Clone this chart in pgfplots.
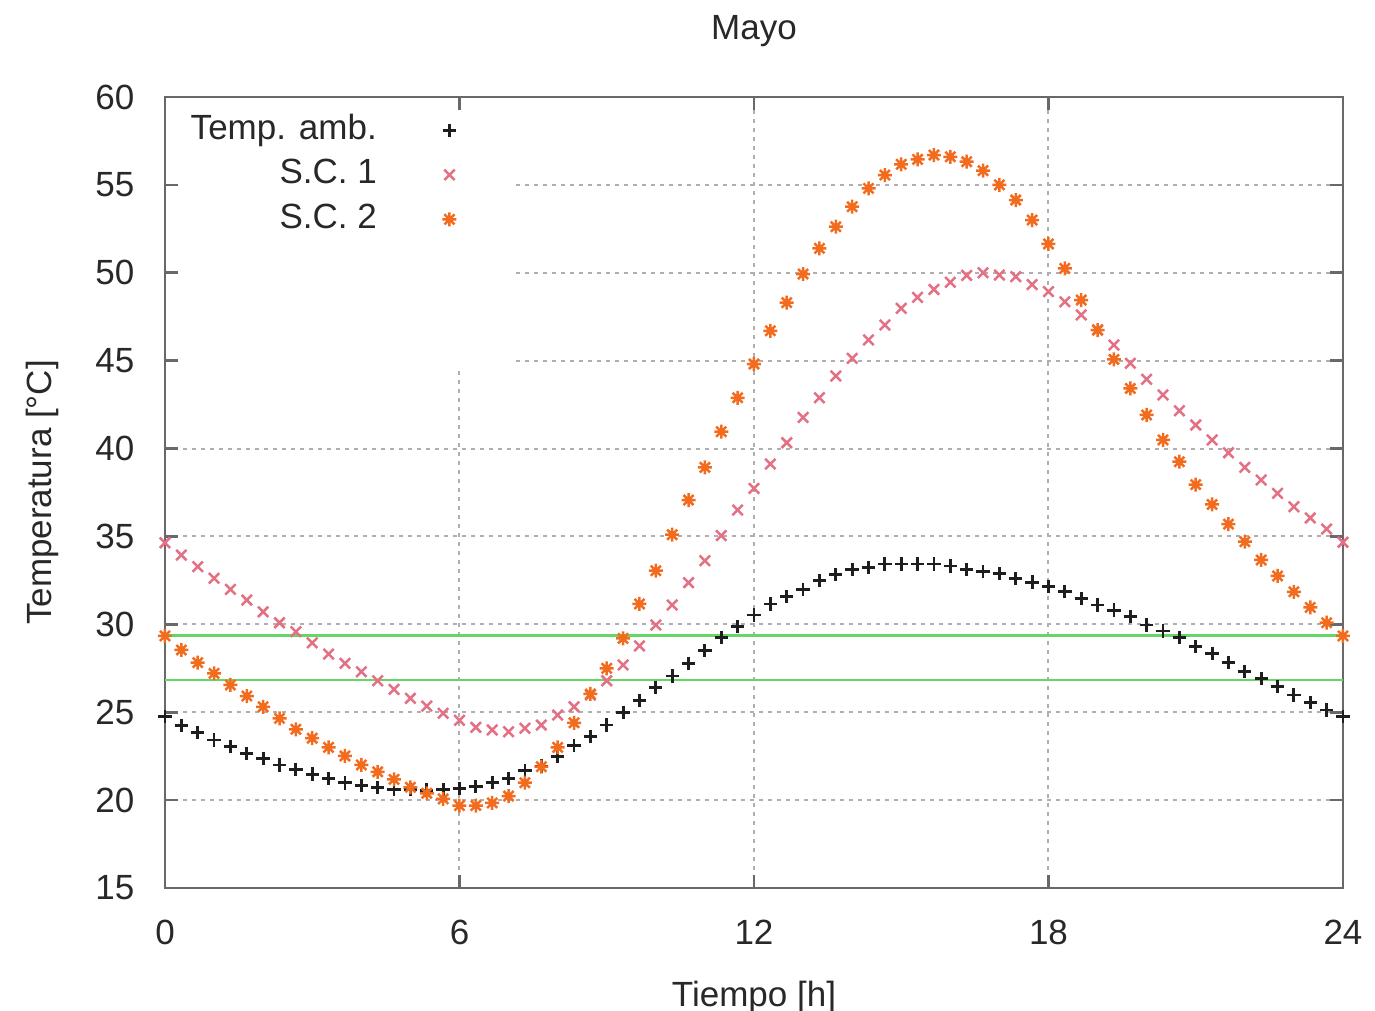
\documentclass[border=0pt]{standalone}
\usepackage{fontspec}
\setmainfont{Liberation Sans}
\usepackage{pgfplots}
\usepackage{pgfplotstable}
\pgfplotsset{compat=1.18}

% gnuplot style asterisk: a plus and a cross on top of each other
\pgfdeclareplotmark{gpstar}{%
  \pgfpathmoveto{\pgfqpoint{-\pgfplotmarksize}{0pt}}%
  \pgfpathlineto{\pgfqpoint{\pgfplotmarksize}{0pt}}%
  \pgfpathmoveto{\pgfqpoint{0pt}{-\pgfplotmarksize}}%
  \pgfpathlineto{\pgfqpoint{0pt}{\pgfplotmarksize}}%
  \pgfpathmoveto{\pgfqpoint{-0.72\pgfplotmarksize}{-0.72\pgfplotmarksize}}%
  \pgfpathlineto{\pgfqpoint{0.72\pgfplotmarksize}{0.72\pgfplotmarksize}}%
  \pgfpathmoveto{\pgfqpoint{-0.72\pgfplotmarksize}{0.72\pgfplotmarksize}}%
  \pgfpathlineto{\pgfqpoint{0.72\pgfplotmarksize}{-0.72\pgfplotmarksize}}%
  \pgfusepathqstroke}

\definecolor{amb}{RGB}{30,30,30}
\definecolor{scuno}{RGB}{228,112,132}
\definecolor{scdos}{RGB}{242,108,32}
\definecolor{limite}{RGB}{100,215,100}
\definecolor{rejilla}{RGB}{175,175,175}
\definecolor{marco}{RGB}{105,105,105}
\definecolor{texto}{RGB}{40,40,40}

% same as the standard layer set, plus one layer just above the grid
\pgfplotsset{
  layers/gnuplot/.define layer set={
    axis background,axis grid,key cover,axis ticks,axis lines,
    axis tick labels,pre main,main,axis descriptions,axis foreground
  }{
    grid style={/pgfplots/on layer=axis grid},
    tick style={/pgfplots/on layer=axis ticks},
    axis line style={/pgfplots/on layer=axis lines},
    label style={/pgfplots/on layer=axis descriptions},
    legend style={/pgfplots/on layer=axis descriptions},
    title style={/pgfplots/on layer=axis descriptions},
    colorbar style={/pgfplots/on layer=axis descriptions},
    ticklabel style={/pgfplots/on layer=axis tick labels},
    axis background@ style={/pgfplots/on layer=axis background},
    3d box foreground style={/pgfplots/on layer=axis foreground},
  },
}

% hour, Temp. amb., S.C. 1, S.C. 2
\pgfplotstableread{
t      amb    scA    scB
0.000  24.75  34.64  29.34
0.333  24.25  33.94  28.54
0.667  23.85  33.28  27.82
1.000  23.42  32.62  27.21
1.333  23.05  31.99  26.55
1.667  22.65  31.38  25.92
2.000  22.35  30.71  25.31
2.333  22.00  30.09  24.65
2.667  21.75  29.58  24.03
3.000  21.48  28.95  23.52
3.333  21.22  28.31  23.00
3.667  20.98  27.78  22.51
4.000  20.82  27.30  22.00
4.333  20.72  26.79  21.61
4.667  20.62  26.30  21.18
5.000  20.60  25.79  20.73
5.333  20.57  25.35  20.39
5.667  20.58  24.94  20.07
6.000  20.65  24.54  19.69
6.333  20.76  24.14  19.69
6.667  20.99  23.99  19.84
7.000  21.24  23.89  20.23
7.333  21.67  24.09  20.99
7.667  21.94  24.27  21.90
8.000  22.47  24.84  23.00
8.333  23.10  25.31  24.40
8.667  23.61  25.98  26.04
9.000  24.27  26.79  27.50
9.333  25.00  27.69  29.20
9.667  25.66  28.77  31.16
10.000 26.42  29.96  33.05
10.333 27.06  31.10  35.10
10.667 27.78  32.37  37.07
11.000 28.50  33.62  38.93
11.333 29.26  35.05  40.96
11.667 29.86  36.50  42.89
12.000 30.53  37.73  44.81
12.333 31.16  39.12  46.70
12.667 31.57  40.33  48.30
13.000 31.99  41.77  49.93
13.333 32.48  42.89  51.39
13.667 32.84  44.13  52.62
14.000 33.12  45.13  53.76
14.333 33.24  46.18  54.80
14.667 33.43  47.03  55.56
15.000 33.43  47.98  56.17
15.333 33.43  48.60  56.45
15.667 33.43  49.05  56.70
16.000 33.32  49.46  56.60
16.333 33.12  49.85  56.32
16.667 32.99  50.00  55.81
17.000 32.88  49.87  55.00
17.333 32.61  49.78  54.14
17.667 32.40  49.33  53.00
18.000 32.14  48.93  51.64
18.333 31.85  48.35  50.25
18.667 31.48  47.60  48.45
19.000 31.10  46.75  46.74
19.333 30.81  45.89  45.07
19.667 30.43  44.85  43.42
20.000 29.96  43.94  41.91
20.333 29.62  43.05  40.49
20.667 29.26  42.15  39.25
21.000 28.73  41.34  37.95
21.333 28.35  40.49  36.82
21.667 27.82  39.76  35.70
22.000 27.31  38.93  34.70
22.333 26.93  38.21  33.66
22.667 26.45  37.45  32.75
23.000 25.98  36.69  31.85
23.333 25.56  36.05  30.96
23.667 25.13  35.42  30.09
24.000 24.75  34.67  29.34
}\mayo

\begin{document}
\begin{tikzpicture}[font=\fontsize{10.5}{12.6}\selectfont, color=texto]
\begin{axis}[
  set layers=gnuplot,
  scale only axis,
  width=353.4pt, height=237.3pt,
  xmin=0, xmax=24, ymin=15, ymax=60,
  xtick={0,6,12,18,24},
  ytick={15,20,25,30,35,40,45,50,55,60},
  clip=false,
  /pgf/number format/assume math mode=true,
  axis line style={draw=marco, line width=0.8pt},
  tick style={draw=marco, line width=0.8pt},
  tick align=inside,
  major tick length=4pt,
  grid=major,
  major grid style={draw=rejilla, line width=0.6pt, dash pattern=on 1.1pt off 1.6pt},
  xticklabel style={anchor=base, inner sep=0pt, yshift=-17.1pt},
  yticklabel style={anchor=east, inner sep=0pt, xshift=-9pt},
  title={Mayo},
  xlabel={Tiempo [h]},
  ylabel={Temperatura [°C]},
  every axis title/.style={at={(axis description cs:0.5,1)}, anchor=base, yshift=17.3pt},
  every axis x label/.style={at={(axis description cs:0.5,0)}, anchor=base, yshift=-35.5pt},
  every axis y label/.style={at={(axis description cs:0,0.5)}, xshift=-33.9pt, rotate=90, anchor=base},
  legend cell align=right,
  legend plot pos=right,
  legend style={
    at={(axis cs:5.807,60)}, anchor=north east,
    xshift=1.94pt, yshift=-4.75pt,
    draw=none, fill=none, inner sep=0pt, outer sep=0pt,
    row sep=2.85pt, column sep=19.7pt,
    nodes={inner sep=0pt, text height=8pt, text depth=2.5pt},
  },
]
% the key hides the grid behind it, as gnuplot does
\begin{pgfonlayer}{key cover}
  \fill[white] (axis cs:0,44.47) rectangle (axis cs:7.09,60);
\end{pgfonlayer}

\addplot[only marks, mark=+, mark size=2.0pt, draw=amb, line width=0.85pt]
  table[x=t, y=amb] {\mayo};
\addlegendentry{Temp. amb.}
\addplot[only marks, mark=x, mark size=2.2pt, draw=scuno, line width=0.75pt]
  table[x=t, y=scA] {\mayo};
\addlegendentry{S.C. 1}
\addplot[only marks, mark=gpstar, mark size=2.1pt, draw=scdos, line width=0.75pt]
  table[x=t, y=scB] {\mayo};
\addlegendentry{S.C. 2}

\addplot[forget plot, limite, line width=0.8pt] coordinates {(0,29.35) (24,29.35)};
\addplot[forget plot, limite, line width=0.8pt] coordinates {(0,26.83) (24,26.83)};

\coordinate (bbsw) at (axis cs:-3.3616,8.059);
\coordinate (bbne) at (axis cs:24.652,65.518);
\end{axis}
\pgfresetboundingbox
\path[use as bounding box] (bbsw) rectangle (bbne);
\end{tikzpicture}
\end{document}
